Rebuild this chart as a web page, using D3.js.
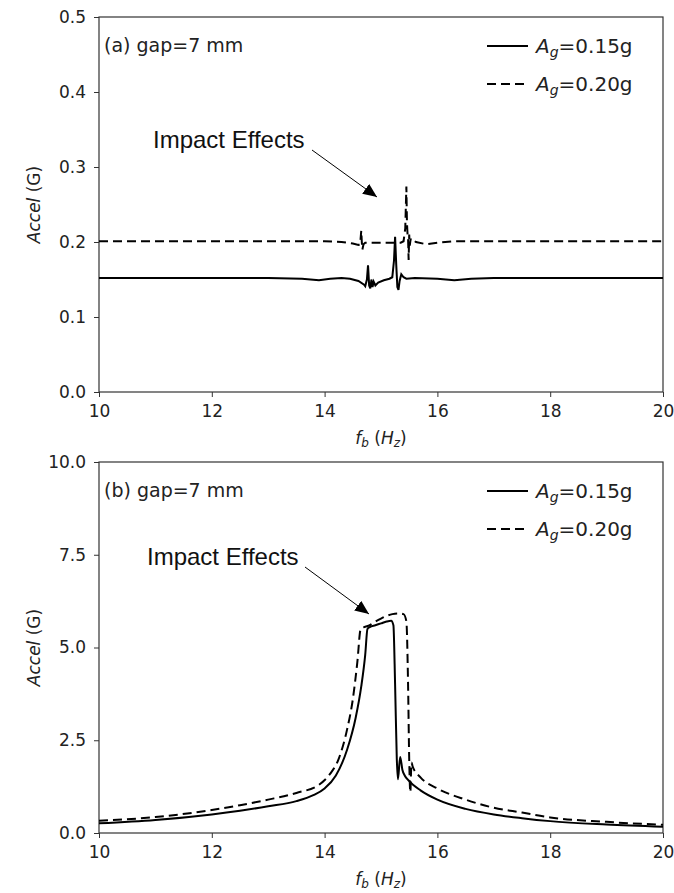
<!DOCTYPE html>
<html>
<head>
<meta charset="utf-8">
<script src="https://cdn.jsdelivr.net/npm/d3@7"></script>
<style>
  body { margin: 0; background: #fff; }
  text { font-family: "DejaVu Sans", sans-serif; fill: #222; }
  .tick line { stroke: #333; }
  .domain { stroke: none; }
  .frame { fill: none; stroke: #333; stroke-width: 1.2; }
  .impact { font-family: "Liberation Sans", Arial, sans-serif; fill: #111; }
</style>
</head>
<body>
<div id="main"></div>
<script>
// ---- data ----
var xTicks = [10, 12, 14, 16, 18, 20];
var yTicksA = [0.0, 0.1, 0.2, 0.3, 0.4, 0.5];
var yTicksB = [0.0, 2.5, 5.0, 7.5, 10.0];
var seriesNames = ["0.15g", "0.20g"];

// (a) top panel, Ag = 0.15g (solid)
var freqA15 = [10, 11, 12, 13, 13.6, 13.9, 14.1, 14.3, 14.45, 14.6, 14.7, 14.72, 14.75, 14.77, 14.79, 14.81, 14.83, 14.85, 14.87, 14.9, 14.95, 15.05, 15.15, 15.2, 15.23, 15.25, 15.27, 15.29, 15.31, 15.33, 15.36, 15.4, 15.45, 15.6, 16.0, 16.3, 16.6, 17, 18, 19, 20];
var accA15 = [0.152, 0.152, 0.152, 0.152, 0.151, 0.149, 0.151, 0.152, 0.151, 0.148, 0.143, 0.141, 0.150, 0.169, 0.142, 0.138, 0.150, 0.140, 0.147, 0.142, 0.146, 0.149, 0.151, 0.153, 0.175, 0.207, 0.170, 0.140, 0.136, 0.148, 0.157, 0.153, 0.151, 0.152, 0.151, 0.149, 0.151, 0.152, 0.152, 0.152, 0.152];

// (a) top panel, Ag = 0.20g (dashed)
var freqA20 = [10, 11, 12, 13, 14, 14.3, 14.5, 14.6, 14.63, 14.65, 14.66, 14.67, 14.69, 14.72, 14.8, 15.0, 15.2, 15.35, 15.4, 15.43, 15.45, 15.46, 15.47, 15.48, 15.49, 15.5, 15.51, 15.52, 15.53, 15.56, 15.62, 15.8, 16.0, 16.3, 17, 18, 19, 20];
var accA20 = [0.201, 0.201, 0.201, 0.201, 0.201, 0.200, 0.198, 0.196, 0.197, 0.215, 0.200, 0.190, 0.197, 0.199, 0.199, 0.199, 0.199, 0.199, 0.201, 0.218, 0.274, 0.226, 0.211, 0.205, 0.176, 0.210, 0.195, 0.201, 0.205, 0.203, 0.200, 0.197, 0.199, 0.201, 0.201, 0.201, 0.201, 0.201];

// (b) bottom panel, Ag = 0.15g (solid)
var freqB15 = [10, 11, 12, 12.5, 13, 13.5, 13.8, 14, 14.2, 14.4, 14.55, 14.65, 14.72, 14.76, 14.8, 14.9, 15.0, 15.1, 15.18, 15.22, 15.25, 15.28, 15.3, 15.34, 15.38, 15.42, 15.5, 15.7, 16, 16.5, 17, 17.5, 18, 19, 20];
var accB15 = [0.26, 0.35, 0.50, 0.60, 0.72, 0.86, 1.02, 1.20, 1.55, 2.25, 3.10, 3.95, 4.80, 5.50, 5.55, 5.60, 5.65, 5.70, 5.72, 5.60, 4.00, 2.00, 1.45, 2.05, 1.70, 1.55, 1.40, 1.15, 0.90, 0.65, 0.50, 0.40, 0.32, 0.23, 0.17];

// (b) bottom panel, Ag = 0.20g (dashed)
var freqB20 = [10, 11, 12, 12.5, 13, 13.5, 13.9, 14.1, 14.25, 14.4, 14.5, 14.58, 14.64, 14.7, 14.8, 14.9, 15.0, 15.1, 15.2, 15.3, 15.4, 15.45, 15.48, 15.5, 15.52, 15.54, 15.56, 15.7, 16, 16.5, 17, 17.5, 18, 19, 20];
var accB20 = [0.33, 0.43, 0.62, 0.75, 0.90, 1.08, 1.30, 1.60, 2.00, 2.80, 3.60, 4.60, 5.50, 5.55, 5.60, 5.70, 5.78, 5.85, 5.90, 5.92, 5.90, 5.70, 4.00, 2.00, 1.10, 1.90, 1.80, 1.50, 1.20, 0.90, 0.68, 0.55, 0.42, 0.30, 0.22];

var panels = [
	{ label: "(a) gap=7 mm", top: 17, bottom: 392, yMax: 0.5, yTicks: yTicksA, fmt: ".1f",
	  series: [[freqA15, accA15], [freqA20, accA20]], curve: d3.curveLinear,
	  arrow: { tx: 153, ty: 148, x1: 312, y1: 150, x2: 377, y2: 197 } },
	{ label: "(b) gap=7 mm", top: 462, bottom: 833, yMax: 10, yTicks: yTicksB, fmt: ".1f",
	  series: [[freqB15, accB15], [freqB20, accB20]], curve: d3.curveMonotoneX,
	  arrow: { tx: 147, ty: 565, x1: 305, y1: 567, x2: 369, y2: 614 } }
];

var w = 674, h = 893, xLeft = 99, xRight = 663;
var dashes = [null, "9,5"];

var svg = d3.select("#main")
	.append("svg")
	.attr("width", w)
	.attr("height", h)

svg.append("defs").append("marker")
	.attr("id", "head")
	.attr("viewBox", "0 0 14 12")
	.attr("refX", 14)
	.attr("refY", 6)
	.attr("markerWidth", 14)
	.attr("markerHeight", 12)
	.attr("markerUnits", "userSpaceOnUse")
	.attr("orient", "auto")
	.append("path")
	.attr("d", "M0,0 L14,6 L0,12 Z")
	.attr("fill", "#000")

var x = d3.scaleLinear().domain([10, 20]).range([xLeft, xRight])

panels.forEach(function(p) {
	var y = d3.scaleLinear().domain([0, p.yMax]).range([p.bottom, p.top])
	var g = svg.append("g")

	// axes
	g.append("g")
		.attr("transform", "translate(0," + p.bottom + ")")
		.call(d3.axisBottom(x).tickValues(xTicks).tickSize(5).tickPadding(8))
		.selectAll("text").attr("font-size", "17px")
	g.append("g")
		.attr("transform", "translate(" + xLeft + ",0)")
		.call(d3.axisLeft(y).tickValues(p.yTicks).tickFormat(d3.format(p.fmt)).tickSize(5).tickPadding(8))
		.selectAll("text").attr("font-size", "17px")

	g.append("rect")
		.attr("class", "frame")
		.attr("x", xLeft)
		.attr("y", p.top)
		.attr("width", xRight - xLeft)
		.attr("height", p.bottom - p.top)

	// lines
	var line = d3.line()
		.x(function(d) { return x(d[0]) })
		.y(function(d) { return y(d[1]) })
		.curve(p.curve)

	p.series.forEach(function(s, i) {
		var pts = s[0].map(function(f, j) { return [f, s[1][j]] })
		g.append("path")
			.datum(pts)
			.attr("d", line)
			.attr("fill", "none")
			.attr("stroke", "#000")
			.attr("stroke-width", 2)
			.attr("stroke-dasharray", dashes[i])
	})

	// panel label
	g.append("text")
		.attr("x", xLeft + 5)
		.attr("y", p.top + 35)
		.attr("font-size", "19px")
		.text(p.label)

	// legend
	seriesNames.forEach(function(name, i) {
		var ly = p.top + 29 + i * 38
		g.append("line")
			.attr("x1", 487).attr("x2", 528)
			.attr("y1", ly).attr("y2", ly)
			.attr("stroke", "#000")
			.attr("stroke-width", 2)
			.attr("stroke-dasharray", dashes[i])
		var t = g.append("text")
			.attr("x", 536)
			.attr("y", ly + 7)
			.attr("font-size", "20px")
		t.append("tspan").attr("font-style", "italic").text("A")
		t.append("tspan").attr("font-style", "italic").attr("font-size", "14px").attr("dy", 4).text("g")
		t.append("tspan").attr("dy", -4).text("=" + name)
	})

	// annotation
	g.append("text")
		.attr("class", "impact")
		.attr("x", p.arrow.tx)
		.attr("y", p.arrow.ty)
		.attr("font-size", "24px")
		.text("Impact Effects")
	g.append("line")
		.attr("x1", p.arrow.x1).attr("y1", p.arrow.y1)
		.attr("x2", p.arrow.x2).attr("y2", p.arrow.y2)
		.attr("stroke", "#000")
		.attr("stroke-width", 1)
		.attr("marker-end", "url(#head)")

	// axis titles
	var yl = g.append("text")
		.attr("transform", "translate(40," + ((p.top + p.bottom) / 2) + ") rotate(-90)")
		.attr("text-anchor", "middle")
		.attr("font-size", "17px")
	yl.append("tspan").attr("font-style", "italic").text("Accel")
	yl.append("tspan").text(" (G)")

	var xl = g.append("text")
		.attr("x", (xLeft + xRight) / 2)
		.attr("y", p.bottom + 52)
		.attr("text-anchor", "middle")
		.attr("font-size", "17px")
	xl.append("tspan").attr("font-style", "italic").text("f")
	xl.append("tspan").attr("font-style", "italic").attr("font-size", "12px").attr("dy", 3).text("b")
	xl.append("tspan").attr("dy", -3).text(" (")
	xl.append("tspan").attr("font-style", "italic").text("H")
	xl.append("tspan").attr("font-style", "italic").attr("font-size", "12px").attr("dy", 3).text("z")
	xl.append("tspan").attr("dy", -3).text(")")
})
</script>
</body>
</html>
